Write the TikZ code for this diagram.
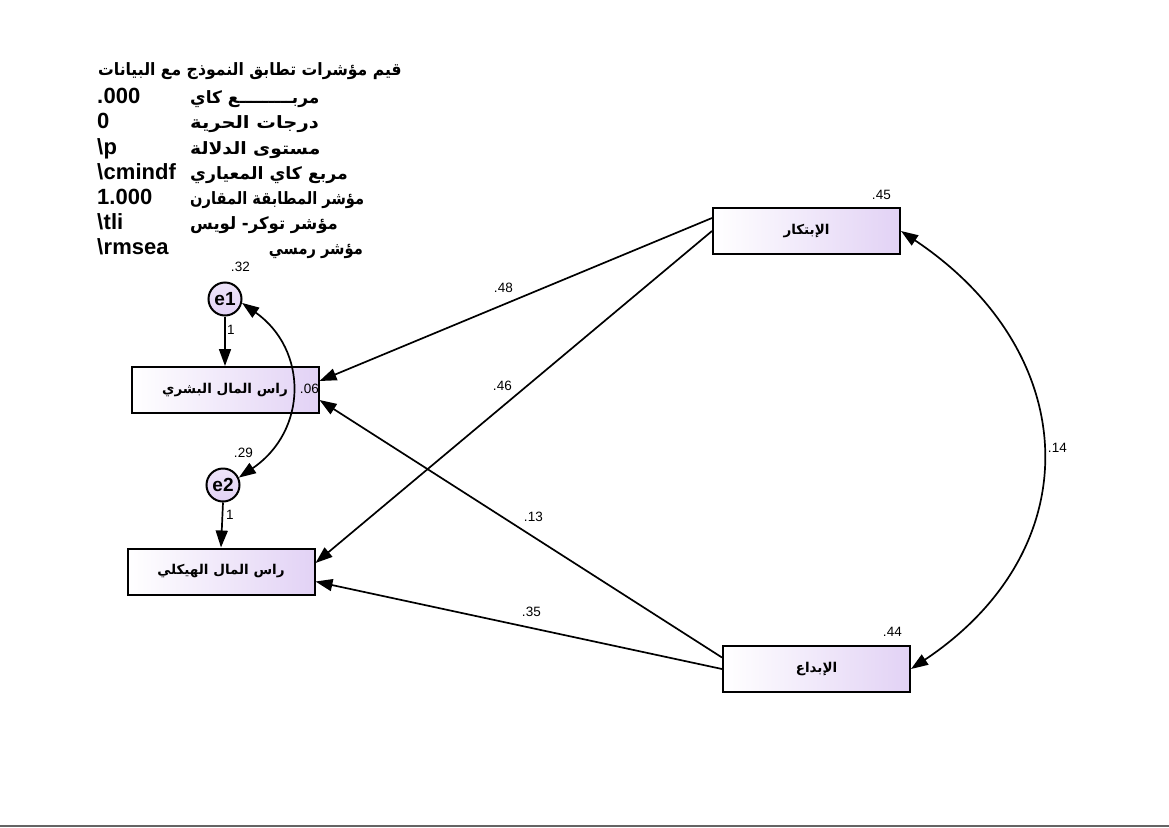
\documentclass[tikz,border=0pt]{standalone}
\usepackage{fontspec}
\usepackage{graphicx}
\setmainfont{Liberation Sans}
\newfontfamily\arabicfont[Script=Arabic]{DejaVu Sans}
\TeXXeTstate=1
\usetikzlibrary{arrows.meta}
\definecolor{lav}{RGB}{226,210,245}
\definecolor{framegray}{RGB}{100,100,100}
% a decimal label: the dot and the digits as two pieces, set left to right
\newcommand{\declabel}[4]{%
  \node[num, anchor=base west] (#1d) at (#2-9.4,#3+4.8) {.};
  \node[num, anchor=base west] (#1) at (#1d.base east) {#4};}
\begin{document}
\begin{tikzpicture}[x=1pt,y=-1pt,
  box/.style={draw=black, line width=2pt, minimum width=187pt, minimum height=46pt,
    left color=white, right color=lav, inner sep=0pt},
  boxtxt/.style={inner sep=0pt, font=\arabicfont\bfseries\fontsize{13.5}{15}\selectfont},
  err/.style={circle, draw=black, line width=2pt, minimum size=33pt, inner sep=0pt,
    top color=lav!60, bottom color=lav, font=\bfseries\fontsize{19}{21}\selectfont},
  num/.style={font=\fontsize{13.5}{15}\selectfont, inner sep=0pt},
  pth/.style={line width=1.7pt, -{Triangle[length=17pt,width=12pt]}},
  cov/.style={line width=1.7pt, {Triangle[length=17pt,width=12pt]}-{Triangle[length=17pt,width=12pt]}},
  fitv/.style={font=\bfseries\fontsize{22}{24}\selectfont, inner sep=0pt, anchor=base west},
  fita/.style={font=\arabicfont\bfseries\fontsize{17}{19}\selectfont, inner sep=0pt},
]
\useasboundingbox[fill=white] (0,0) rectangle (1169,827);
\draw[framegray, line width=1.6pt] (0,826) -- (1169,826);

% boxes
\node[box] (ibt) at (806.5,231) {};
\node[box] (ibd) at (816.5,669) {};
\node[box] (bas) at (225,390) {};
\node[box] (hay) at (221,571.5) {};

% error terms
\node[err] (e1) at (225,299) {e1};
\node[err] (e2) at (223,485) {e2};

% paths
\draw[pth] (e1.south) -- (bas.north);
\draw[pth] (e2.south) -- (hay.north);
\draw[pth] ([yshift=13pt]ibt.west) -- ([yshift=9pt]bas.east);
\draw[pth] (ibt.west) -- ([yshift=8.5pt]hay.east);
\draw[pth] ([yshift=11.5pt]ibd.west) -- ([yshift=-10pt]bas.east);
\draw[pth] (ibd.west) -- ([yshift=-10pt]hay.east);

% covariances
\draw[cov] (ibt.east) .. controls (1082,352) and (1092,548) .. (ibd.east);
\draw[cov] (e1.-13) .. controls (308,349.5) and (308,430.5) .. (e2.25);

% numeric labels
\declabel{l32}{240}{267}{32}
\node[num] (l1a) at (231,330) {1};
\declabel{l06}{309}{389}{06}
\declabel{l29}{243}{453}{29}
\node[num] (l1b) at (230,515) {1};
\declabel{l45}{881}{195}{45}
\declabel{l48}{503}{288}{48}
\declabel{l46}{502}{386}{46}
\declabel{l13}{533}{517}{13}
\declabel{l35}{531}{612}{35}
\declabel{l44}{892}{632}{44}
\declabel{l14}{1057}{448}{14}

% fit values
\node[fitv] (v1d) at (97,103.6) {.};
\node[fitv] (v1) at (v1d.base east) {000};
\node[fitv] (v2) at (97,128.8) {0};
\node[fitv] (v3s) at (97,154) {\textbackslash};
\node[fitv] (v3) at (v3s.base east) {p};
\node[fitv] (v4s) at (97,179.2) {\textbackslash};
\node[fitv] (v4) at (v4s.base east) {cmindf};
\node[fitv] (v5) at (97,204.4) {1.000};
\node[fitv] (v6s) at (97,229.6) {\textbackslash};
\node[fitv] (v6) at (v6s.base east) {tli};
\node[fitv] (v7s) at (97,254.8) {\textbackslash};
\node[fitv] (v7) at (v7s.base east) {rmsea};

% Arabic texts
\node[boxtxt] (ibtT) at (ibt.center) {\beginR الإبتكار\endR};
\node[boxtxt] (ibdT) at (ibd.center) {\beginR الإبداع\endR};
\node[boxtxt] (basT) at (bas.center) {\beginR راس المال البشري\endR};
\node[boxtxt] (hayT) at (hay.center) {\beginR راس المال الهيكلي\endR};
\node[fita, anchor=base] (title) at (250,75) {\scalebox{0.92}[1]{\beginR قيم مؤشرات تطابق النموذج مع البيانات\endR}};
\node[fita, anchor=base west] (a1) at (190,103.6) {\beginR مربـــــــــع كاي\endR};
\node[fita, anchor=base west] (a2) at (190,128.8) {\scalebox{1.15}[1]{\beginR درجات الحرية\endR}};
\node[fita, anchor=base west] (a3) at (190,154) {\scalebox{1.1}[1]{\beginR مستوى الدلالة\endR}};
\node[fita, anchor=base west] (a4) at (190,179.2) {\scalebox{1.02}[1]{\beginR مربع كاي المعياري\endR}};
\node[fita, anchor=base west] (a5) at (190,204.4) {\scalebox{0.86}[1]{\beginR مؤشر المطابقة المقارن\endR}};
\node[fita, anchor=base west] (a6) at (190,229.6) {\scalebox{0.97}[1]{\beginR مؤشر توكر- لويس\endR}};
\node[fita, anchor=base east] (a7) at (363,254.8) {\scalebox{0.86}[1]{\beginR مؤشر رمسي\endR}};
\end{tikzpicture}
\end{document}
